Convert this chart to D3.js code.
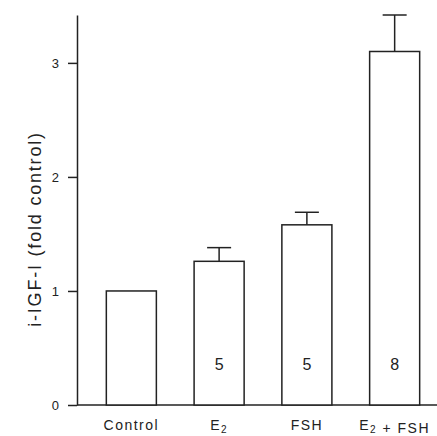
<!DOCTYPE html>
<html lang="en">
<head>
    <meta charset="UTF-8">
    <title>i-IGF-I</title>
    <style>
        body {
            margin: 0;
            padding: 0;
            background: #fff;
        }
        svg text {
            font-family: "Liberation Sans", Arial, sans-serif;
            fill: #222;
        }
    </style>
</head>
<body>
    <div id="chart"></div>

    <script src="https://d3js.org/d3.v7.min.js"></script>
    <script>
        // data
        const categories = ["Control", "E_2", "FSH", "E_2 + FSH"];
        const means = [1.0, 1.26, 1.58, 3.10];
        const errors = [0, 0.12, 0.11, 0.32];
        const nLabels = ["", "5", "5", "8"];
        const yTicks = [0, 1, 2, 3];

        const width = 437, height = 436;
        const margin = { top: 15, right: 0, bottom: 31, left: 77 };

        const svg = d3.select("#chart")
            .append("svg")
            .attr("width", width)
            .attr("height", height);

        const y = d3.scaleLinear()
            .domain([0, 3.42])
            .range([height - margin.bottom, margin.top]);

        const x = d3.scaleBand()
            .domain(categories)
            .range([80, 446])
            .paddingInner(0.43)
            .paddingOuter(0.3);

        const ink = "#222";

        // y axis
        const yAxis = svg.append("g")
            .attr("transform", `translate(${margin.left},0)`)
            .call(d3.axisLeft(y).tickValues(yTicks).tickFormat(d3.format("d"))
                .tickSize(9).tickSizeOuter(0).tickPadding(9));
        yAxis.selectAll("path, line").attr("stroke", ink).attr("stroke-width", 1.5);
        yAxis.selectAll("text")
            .attr("font-size", 13)
            .style("font-family", "'Liberation Sans', Arial, sans-serif")
            .attr("fill", ink);

        // baseline
        svg.append("line")
            .attr("x1", margin.left)
            .attr("x2", width)
            .attr("y1", y(0))
            .attr("y2", y(0))
            .attr("stroke", ink)
            .attr("stroke-width", 1.5);

        const rows = categories.map((c, i) => ({ c, m: means[i], e: errors[i], n: nLabels[i] }));

        // bars
        svg.selectAll("rect.bar")
            .data(rows)
            .enter().append("rect")
            .attr("class", "bar")
            .attr("x", d => x(d.c))
            .attr("y", d => y(d.m))
            .attr("width", x.bandwidth())
            .attr("height", d => y(0) - y(d.m))
            .attr("fill", "#fff")
            .attr("stroke", ink)
            .attr("stroke-width", 1.5);

        // error bars
        const eb = rows.filter(d => d.e > 0);
        svg.selectAll("line.err")
            .data(eb)
            .enter().append("line")
            .attr("class", "err")
            .attr("x1", d => x(d.c) + x.bandwidth() / 2)
            .attr("x2", d => x(d.c) + x.bandwidth() / 2)
            .attr("y1", d => y(d.m))
            .attr("y2", d => y(d.m + d.e))
            .attr("stroke", ink)
            .attr("stroke-width", 1.5);
        svg.selectAll("line.cap")
            .data(eb)
            .enter().append("line")
            .attr("class", "cap")
            .attr("x1", d => x(d.c) + x.bandwidth() / 2 - 12)
            .attr("x2", d => x(d.c) + x.bandwidth() / 2 + 12)
            .attr("y1", d => y(d.m + d.e))
            .attr("y2", d => y(d.m + d.e))
            .attr("stroke", ink)
            .attr("stroke-width", 1.5);

        // n inside bars
        svg.selectAll("text.n")
            .data(rows)
            .enter().append("text")
            .attr("class", "n")
            .attr("x", d => x(d.c) + x.bandwidth() / 2)
            .attr("y", y(0) - 35)
            .attr("text-anchor", "middle")
            .attr("font-size", 16)
            .text(d => d.n);

        // category labels, "_2" becomes a subscript
        const lab = svg.selectAll("text.cat")
            .data(categories)
            .enter().append("text")
            .attr("class", "cat")
            .attr("x", d => x(d) + x.bandwidth() / 2)
            .attr("y", y(0) + 25)
            .attr("text-anchor", "middle")
            .attr("font-size", 14)
            .attr("letter-spacing", 1.5);
        lab.each(function (d) {
            const t = d3.select(this);
            d.split(/(_\d)/).filter(s => s).forEach(s => {
                if (s[0] === "_") {
                    t.append("tspan").attr("font-size", 10).attr("dy", 3).text(s.slice(1));
                    t.append("tspan").attr("dy", -3).text("");
                } else {
                    t.append("tspan").text(s);
                }
            });
            // keep the label inside the picture
            const w = this.getComputedTextLength();
            const cx = +t.attr("x");
            if (cx + w / 2 > width - 2) t.attr("x", width - 2 - w / 2);
        });

        // y label
        svg.append("text")
            .attr("transform", `translate(41,${(y(0) + y(3.42)) / 2 + 19}) rotate(-90)`)
            .attr("text-anchor", "middle")
            .attr("font-size", 18)
            .attr("letter-spacing", 1.8)
            .text("i-IGF-I (fold control)");
    </script>
</body>
</html>
